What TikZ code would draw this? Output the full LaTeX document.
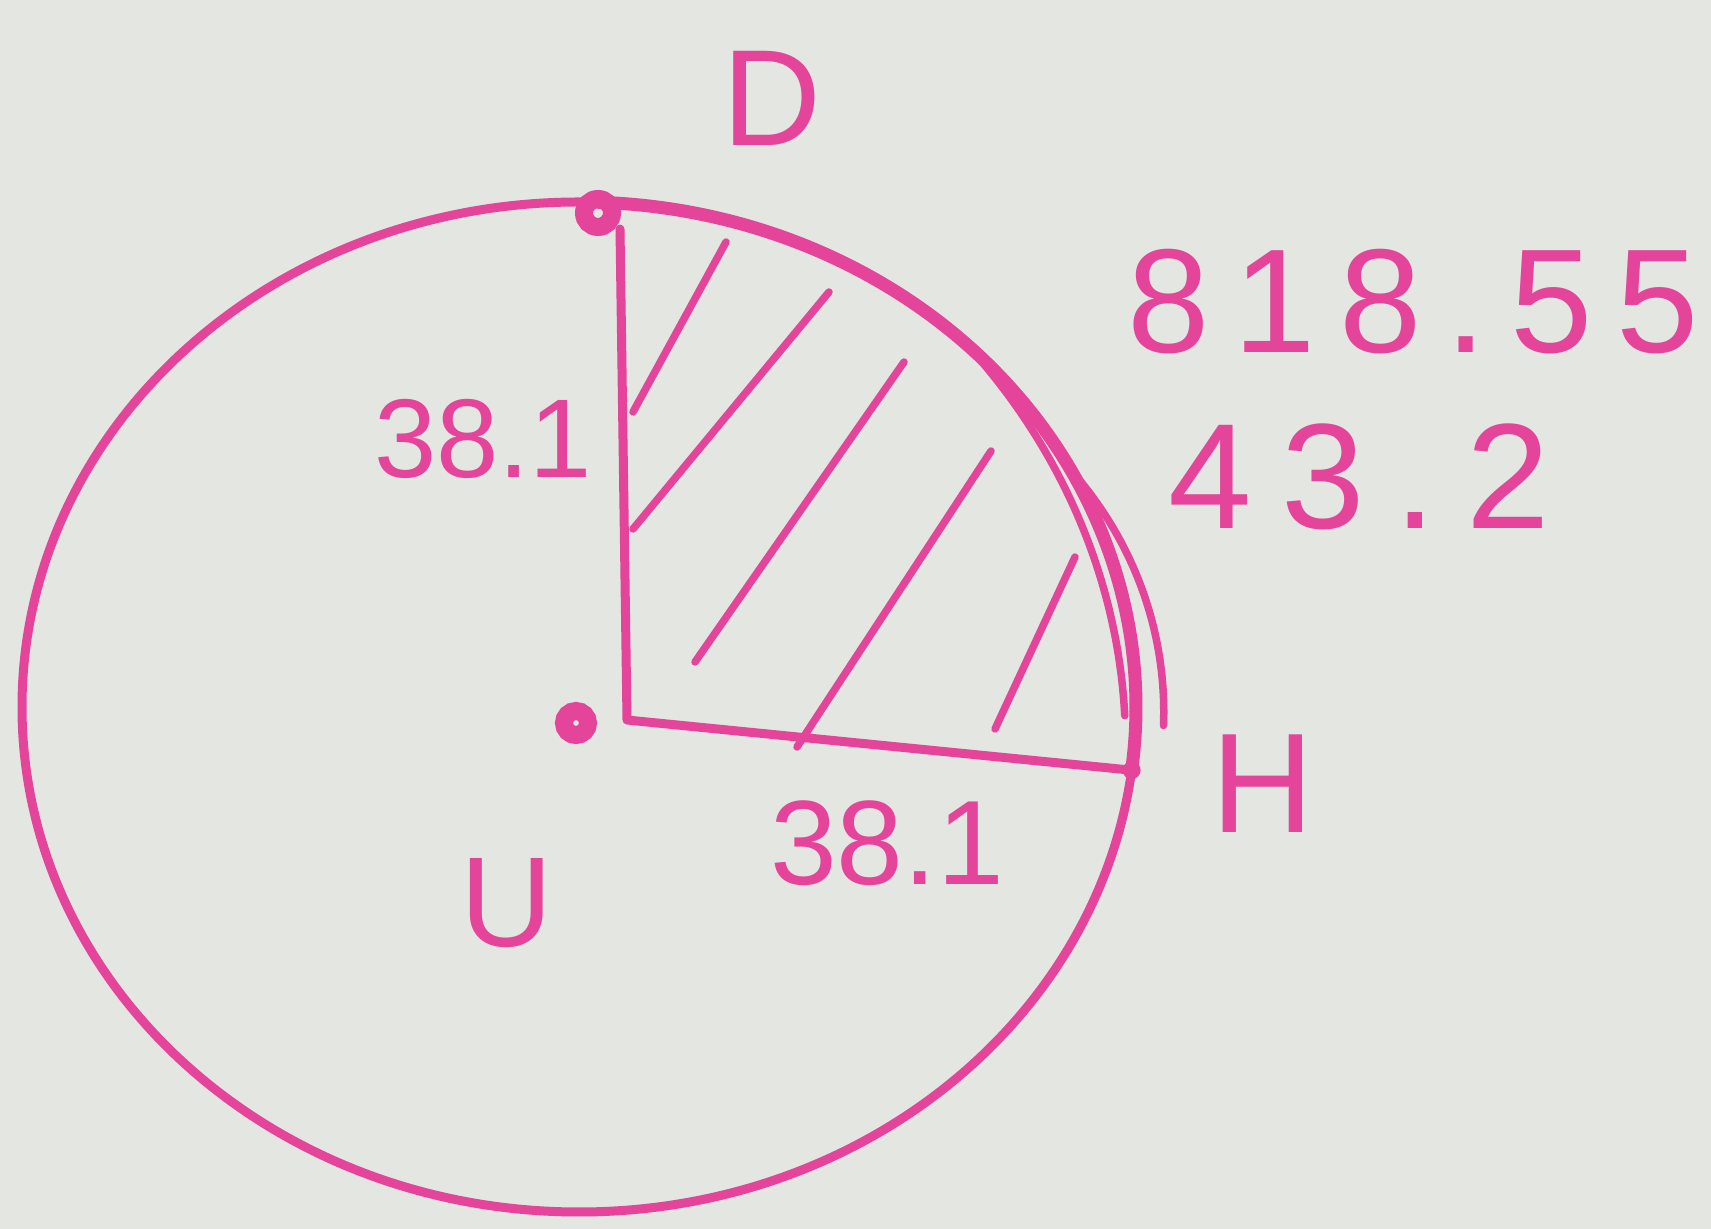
\documentclass[tikz,border=0pt]{standalone}
\usepackage{fontspec}
\setmainfont{Liberation Sans}
\definecolor{ink}{HTML}{E5449B}
\definecolor{paper}{HTML}{E4E6E2}
\begin{document}
\begin{tikzpicture}[x=1pt,y=1pt,
  pen/.style={draw=ink, line width=9pt, line cap=round, line join=round},
  boldarc/.style={draw=ink, line width=13pt, line cap=round},
  hatch/.style={draw=ink, line width=7.5pt, line cap=round},
  blob/.style={draw=ink, line width=18pt},
  lbl/.style={text=ink, inner sep=0pt},
  declare function={fi(\t)=1-0.02*(46-\t)/47-0.018*(46-\t)*(\t+1)/552.25;
                    fo(\t)=1+0.05*(1-((\t+2)/30)^2);}]
\fill[paper] (0,0) rectangle (1711,1229);
\useasboundingbox (0,0) rectangle (1711,1229);

% key points
\coordinate (C) at (579,522);
\coordinate (D) at (598.44,1026.69);
\coordinate (Dblob) at (598,1016);
\coordinate (Dfoot) at (620,1000);
\coordinate (U) at (576,506);
\coordinate (Ucorner) at (627,509);
\coordinate (H) at (1131.6,458.8);

% circle
\draw[pen] (C) ellipse [x radius=557, y radius=505];

% emphasised arc D-H
\draw[boldarc] (D) arc[start angle=88, end angle=-7.2, x radius=557, y radius=505];
% extra strokes along the arc
\draw[hatch] plot[smooth, domain=-1:46, samples=30, variable=\t]
  ({579+557*fi(\t)*cos(\t)}, {522+505*fi(\t)*sin(\t)});
\draw[hatch] plot[smooth, domain=-2:28, samples=30, variable=\t]
  ({579+557*fo(\t)*cos(\t)}, {522+505*fo(\t)*sin(\t)});

% radii
\draw[pen] (Dfoot) -- (Ucorner) -- (H);

% hatching
\coordinate (h1a) at (633,817);  \coordinate (h1b) at (726,987);
\coordinate (h2a) at (633,700);  \coordinate (h2b) at (829,937);
\coordinate (h3a) at (695,567);  \coordinate (h3b) at (904,867);
\coordinate (h4a) at (797,482);  \coordinate (h4b) at (991,778);
\coordinate (h5a) at (995,500);  \coordinate (h5b) at (1075,672);
\draw[hatch] (h1a) -- (h1b);
\draw[hatch] (h2a) -- (h2b);
\draw[hatch] (h3a) -- (h3b);
\draw[hatch] (h4a) -- (h4b);
\draw[hatch] (h5a) -- (h5b);

% point marks
\draw[blob] (Dblob) circle[radius=14];
\draw[blob] (U) circle[radius=12];
\fill[ink] (H) circle[radius=9];

% labels
\node[lbl] (lD) at (772,1131) {\fontsize{137}{137}\selectfont D};
\node[lbl] (lArc) at (1413,927) {\fontsize{148}{148}\selectfont\addfontfeature{LetterSpace=16}818.55};
\node[lbl] (lAng) at (1359,752) {\fontsize{150}{150}\selectfont\addfontfeature{LetterSpace=20}43.2};
\node[lbl] (lR1) at (483,790) {\fontsize{112}{112}\selectfont 38.1};
\node[lbl] (lR2) at (887,386) {\fontsize{120}{120}\selectfont 38.1};
\node[lbl] (lU) at (507,326) {\fontsize{128}{128}\selectfont U};
\node[lbl] (lH) at (1263,445) {\fontsize{142}{142}\selectfont H};
\end{tikzpicture}
\end{document}
